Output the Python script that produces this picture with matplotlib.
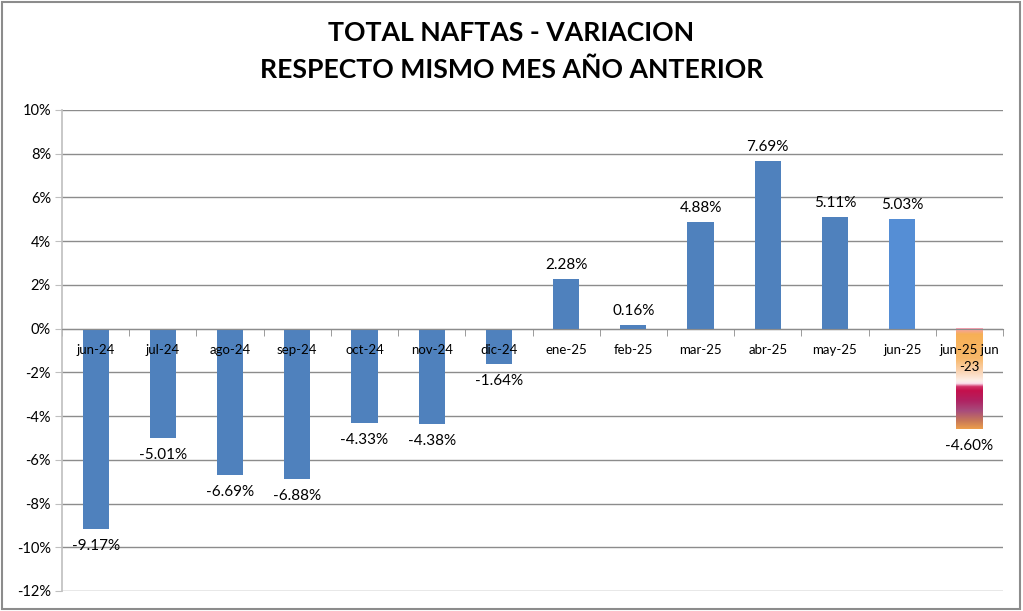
import matplotlib
matplotlib.use("Agg")
import matplotlib.pyplot as plt
import numpy as np
from matplotlib.colors import LinearSegmentedColormap
from matplotlib.patches import Rectangle

categories = ["jun-24", "jul-24", "ago-24", "sep-24", "oct-24", "nov-24", "dic-24",
              "ene-25", "feb-25", "mar-25", "abr-25", "may-25", "jun-25", "jun-25 jun\n-23"]
values = [-9.17, -5.01, -6.69, -6.88, -4.33, -4.38, -1.64, 2.28, 0.16, 4.88, 7.69, 5.11, 5.03, -4.60]
yticks = [10, 8, 6, 4, 2, 0, -2, -4, -6, -8, -10, -12]

FONT = "Lato"
fig = plt.figure(figsize=(10.23, 6.11), dpi=100)
ax = fig.add_axes([62 / 1023, 1 - 591 / 611, (1003 - 62) / 1023, (591 - 110) / 611])

x = np.arange(len(categories))
colors = ["#4F81BD"] * 12 + ["#558ED5", "none"]
bars = ax.bar(x, values, width=0.39, color=colors, zorder=3)

# gradient bar (last)
grad_colors = [(0.00, "#F4A0B4"), (0.06, "#F7B055"), (0.30, "#F8B86A"), (0.42, "#FAD2AE"),
               (0.52, "#FDEFE8"), (0.55, "#FBE0EE"), (0.58, "#D23068"), (0.62, "#C4104C"),
               (0.72, "#B02262"), (0.82, "#A84C7C"), (0.92, "#C87858"), (1.00, "#EC9E4C")]
cmap = LinearSegmentedColormap.from_list("g", grad_colors)
b = bars[-1]
g = np.linspace(0, 1, 256).reshape(-1, 1)
ax.imshow(g, cmap=cmap, aspect="auto",
          extent=(b.get_x(), b.get_x() + b.get_width(), values[-1], 0),
          zorder=3, interpolation="bilinear")

ax.set_xlim(-0.5, len(categories) - 0.5)
ax.set_ylim(-12, 10)
ax.set_yticks(yticks)
ax.set_yticklabels([f"{t}%" for t in yticks], fontsize=10.5, family=FONT)
ax.yaxis.grid(True, color="#8C8C8C", linewidth=1.0, zorder=0)
ax.tick_params(axis="y", length=5, color="#BFBFBF", pad=3)

for s in ["top", "right"]:
    ax.spines[s].set_visible(False)
ax.spines["left"].set_color("#BFBFBF")
ax.spines["left"].set_linewidth(1.2)
ax.spines["bottom"].set_position(("data", 0))
ax.spines["bottom"].set_color("#8C8C8C")
ax.spines["bottom"].set_zorder(4)

ax.set_xticks(x)
ax.set_xticklabels([])
ax.tick_params(axis="x", length=0)
ax.set_xticks(np.arange(-0.5, len(categories)), minor=True)
ax.tick_params(axis="x", which="minor", length=5, color="#8C8C8C", direction="out")
ax.set_axisbelow(True)

for xi, c in zip(x, categories):
    ax.annotate(c, (xi, 0), xytext=(0, -11), textcoords="offset points",
                ha="center", va="top", fontsize=9.5, family=FONT, zorder=6,
                linespacing=1.55)

for xi, v in zip(x, values):
    if v >= 0:
        ax.annotate(f"{v:.2f}%", (xi, v), xytext=(0, 5), textcoords="offset points",
                    ha="center", va="bottom", fontsize=11, family=FONT)
    else:
        ax.annotate(f"{v:.2f}%", (xi, v), xytext=(0, -7), textcoords="offset points",
                    ha="center", va="top", fontsize=11, family=FONT)

fig.text(0.5, 1 - 33 / 611, "TOTAL NAFTAS - VARIACION", ha="center", va="center",
         fontsize=19.2, fontweight="bold", family=FONT)
fig.text(0.5, 1 - 70 / 611, "RESPECTO MISMO MES AÑO ANTERIOR", ha="center", va="center",
         fontsize=19.2, fontweight="bold", family=FONT)

fig.patches.append(Rectangle((2 / 1023, 2 / 611), 1018 / 1023, 607 / 611, transform=fig.transFigure,
                             fill=False, edgecolor="#8C8C8C", linewidth=1.5))

fig.savefig("out.png", dpi=100)
